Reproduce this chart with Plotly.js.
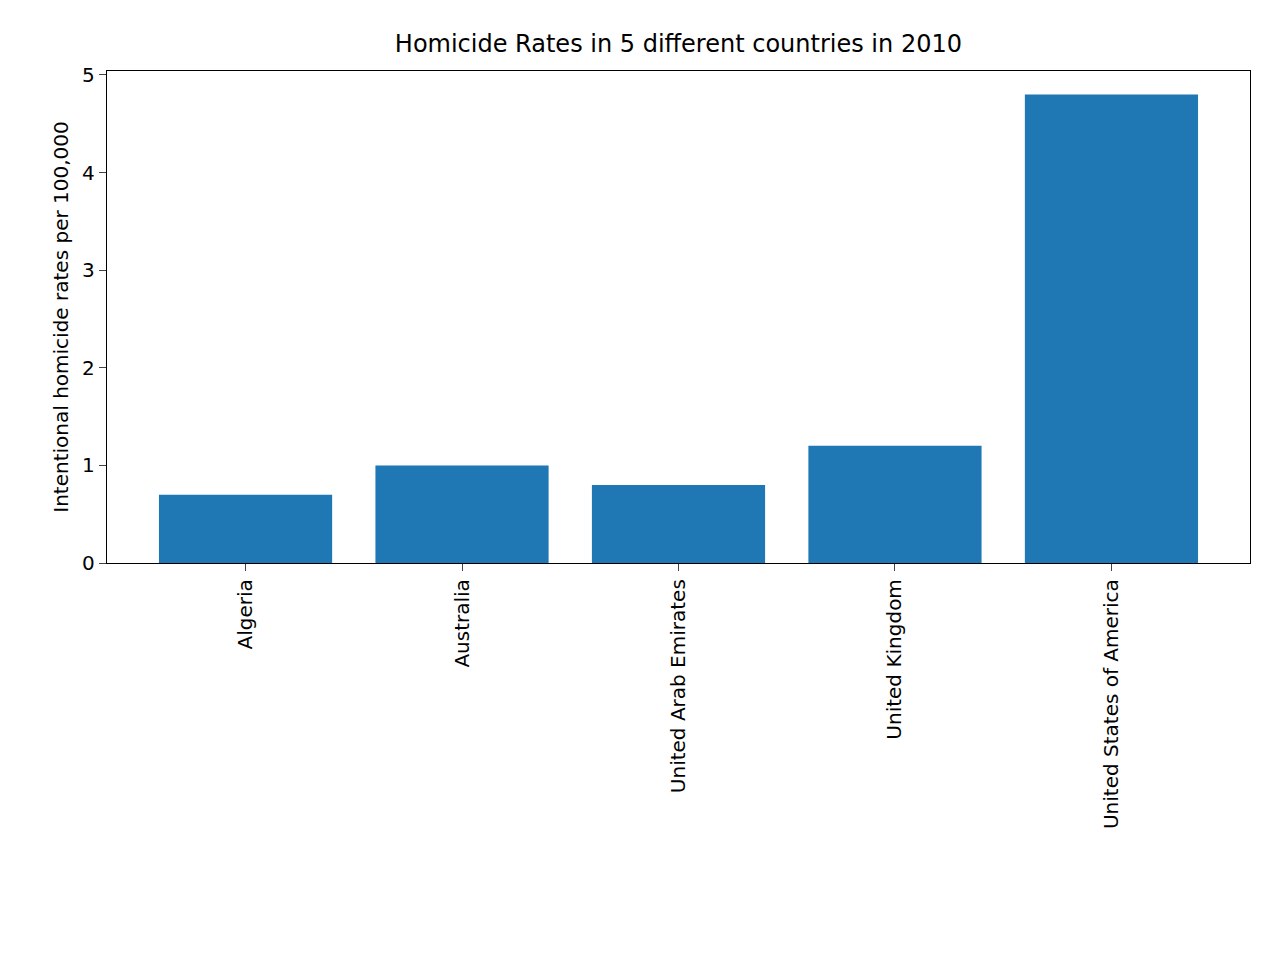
<!DOCTYPE html>
<html>
<head>
<meta charset="utf-8">
<script src="https://cdn.plot.ly/plotly-3.0.1.min.js"></script>
<style>body{margin:0;background:#fff}</style>
</head>
<body>
<div id="chart"></div>
<script>
const countries = ['Algeria', 'Australia', 'United Arab Emirates', 'United Kingdom', 'United States of America'];
const rates = [0.7, 1.0, 0.8, 1.2, 4.8];

const trace = {
    x: countries, y: rates, type: 'bar', width: 0.8,
    marker: { color: '#1f77b4' }, hoverinfo: 'x+y'
};

const layout = {
    width: 1280, height: 960,
    margin: { l: 107, r: 30, t: 71, b: 397 },
    font: { family: 'DejaVu Sans', size: 20, color: '#000' },
    title: { text: 'Homicide Rates in 5 different countries in 2010', font: { size: 24 }, x: 0.53, xanchor: 'center', y: 0.955, yanchor: 'middle' },
    xaxis: {
        range: [-0.64, 4.64], tickangle: -90, ticks: 'outside', ticklen: 7,
        tickfont: { size: 20 },
        showline: true, mirror: true, linecolor: '#000', linewidth: 1.3,
        showgrid: false, zeroline: false
    },
    yaxis: {
        title: { text: 'Intentional homicide rates per 100,000', font: { size: 20 }, standoff: 8 },
        range: [0, 5.04], dtick: 1, ticks: 'outside', ticklen: 7,
        tickfont: { size: 20 },
        showline: true, mirror: true, linecolor: '#000', linewidth: 1.3,
        showgrid: false, zeroline: false
    },
    plot_bgcolor: '#fff', paper_bgcolor: '#fff', showlegend: false
};

Plotly.newPlot('chart', [trace], layout, { displayModeBar: false });
</script>
</body>
</html>
